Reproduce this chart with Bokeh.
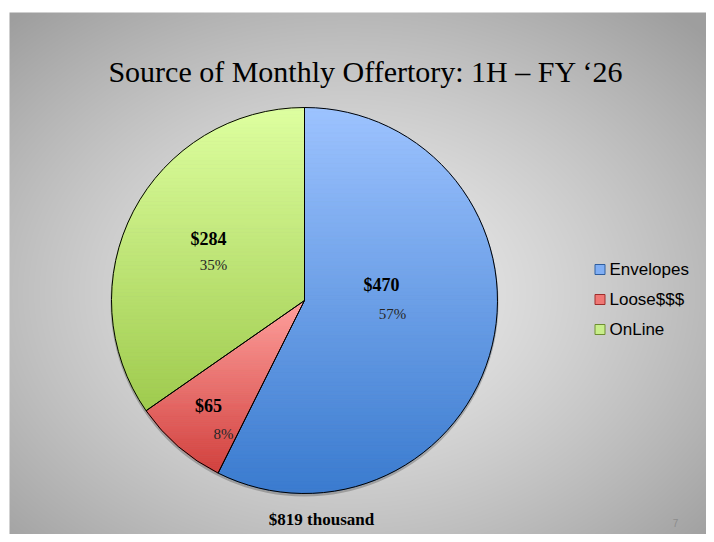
import numpy as np
from bokeh.plotting import figure
from bokeh.models import Range1d
from bokeh.core.properties import value
from bokeh.embed import file_html
from bokeh.resources import INLINE

# ---- data ----
categories = ["Envelopes", "Loose$$$", "OnLine"]
values = [470, 65, 284]
total_label = "$819 thousand"
title_text = "Source of Monthly Offertory: 1H \u2013 FY \u201826"
page_number = "7"

# ---- style ----
grad_top = ["#9DC3FF", "#FFA09D", "#DEFFA0"]
grad_bot = ["#3A7BCF", "#D2413E", "#9FCB4E"]
legend_fill = ["#80AEF4", "#EF7774", "#C8EE8A"]
legend_line = ["#2F5E9E", "#9E2E2C", "#6E8E32"]

W, H = 706, 534
CX, CY, R = 304, 234, 193
# label anchor offsets from the pie centre (value label, percent label)
val_pos = [(77, 16), (-96, -105), (-96, 62)]
pct_pos = [(88, -13), (-81, -133), (-91, 36)]

p = figure(width=W, height=H, output_backend="svg", toolbar_location=None,
           x_range=Range1d(0, W), y_range=Range1d(0, H), min_border=0)
p.axis.visible = False
p.grid.visible = False
p.outline_line_color = None
p.background_fill_color = "white"
p.border_fill_color = "white"

# background radial gradient (slide)
bw, bh = 705, 530
yy, xx = np.mgrid[0:bh, 0:bw]
dx = (xx - bw * 0.48) / (bw / 2)
dy = (yy - bh * 0.47) / (bh / 2)
d = np.sqrt(dx ** 2 + dy ** 2) / np.sqrt(2)
d = np.clip(d, 0, 1)
g = (238 - (238 - 158) * d ** 1.3).astype(np.uint32)
img = (255 << 24) | (g << 16) | (g << 8) | g
p.image_rgba(image=[img.astype(np.uint32)], x=9, y=-8, dw=bw, dh=bh)

tot = float(sum(values))
starts, ends = [], []
acc = 0.0
for v in values:
    a0 = np.pi / 2 - 2 * np.pi * acc / tot
    a1 = a0 - 2 * np.pi * v / tot
    starts.append(a0)
    ends.append(a1)
    acc += v

# shadow
p.circle(x=[CX], y=[CY - 2], radius=R + 1, fill_color="black", fill_alpha=0.22,
         line_color=None)


def clip_half(pts, y0, keep_above):
    out = []
    n = len(pts)
    for i in range(n):
        P = pts[i]
        Q = pts[(i + 1) % n]
        inP = P[1] >= y0 if keep_above else P[1] <= y0
        inQ = Q[1] >= y0 if keep_above else Q[1] <= y0
        if inP:
            out.append(P)
        if inP != inQ:
            t = (y0 - P[1]) / (Q[1] - P[1])
            out.append((P[0] + t * (Q[0] - P[0]), y0))
    return out


def hex2rgb(h):
    return np.array([int(h[i:i + 2], 16) for i in (1, 3, 5)], dtype=float)


xs_all, ys_all, cols = [], [], []
for i, v in enumerate(values):
    a = np.linspace(starts[i], ends[i], 200)
    poly = [(CX, CY)] + [(CX + R * np.cos(t), CY + R * np.sin(t)) for t in a]
    ymin = min(q[1] for q in poly)
    ymax = max(q[1] for q in poly)
    nb = 90
    edges = np.linspace(ymax, ymin, nb + 1)
    c0, c1 = hex2rgb(grad_top[i]), hex2rgb(grad_bot[i])
    for b in range(nb):
        hi, lo = edges[b], edges[b + 1]
        part = clip_half(poly, lo, True)
        if len(part) < 3:
            continue
        part = clip_half(part, hi, False)
        if len(part) < 3:
            continue
        f = (b + 0.5) / nb
        c = c0 + (c1 - c0) * f
        xs_all.append([q[0] for q in part])
        ys_all.append([q[1] for q in part])
        cols.append("#%02x%02x%02x" % tuple(int(round(x)) for x in c))

p.patches(xs=xs_all, ys=ys_all, fill_color=cols, line_color=cols, line_width=0.8)

p.wedge(x=[CX] * len(values), y=[CY] * len(values), radius=R,
        start_angle=starts, end_angle=ends, direction="clock",
        fill_alpha=0, line_color="black", line_width=1)

serif = value("Liberation Serif")
sans = value("Liberation Sans")

# value & percent labels
vx = [CX + o[0] for o in val_pos]
vy = [CY + o[1] for o in val_pos]
p.text(x=vx, y=vy, text=["$%d" % v for v in values], text_font=serif,
       text_font_size="18px", text_font_style="bold", text_color="black",
       text_align="center", text_baseline="middle")
px = [CX + o[0] for o in pct_pos]
py = [CY + o[1] for o in pct_pos]
p.text(x=px, y=py, text=["%d%%" % round(v / tot * 100) for v in values],
       text_font=serif, text_font_size="15px", text_color="#262626",
       text_align="center", text_baseline="middle")

# title
p.text(x=[365.5], y=[463], text=[title_text], text_font=serif,
       text_font_size="30px", text_color="black", text_align="center",
       text_baseline="alphabetic")

# total
p.text(x=[321], y=[15], text=[total_label], text_font=serif,
       text_font_size="17px", text_font_style="bold", text_color="black",
       text_align="center", text_baseline="middle")

# page number
p.text(x=[675], y=[12], text=[page_number], text_font=sans,
       text_font_size="10px", text_color="#8C8C8C", text_align="center",
       text_baseline="middle")

# legend
ly = [265 - 30 * i for i in range(len(categories))]
p.rect(x=[599.5] * len(categories), y=ly, width=10, height=10,
       fill_color=legend_fill, line_color=legend_line, line_width=1)
p.text(x=[609] * len(categories), y=ly, text=categories, text_font=sans,
       text_font_size="17px", text_color="black", text_align="left",
       text_baseline="middle")

open("out.html", "w").write(file_html(p, INLINE))
